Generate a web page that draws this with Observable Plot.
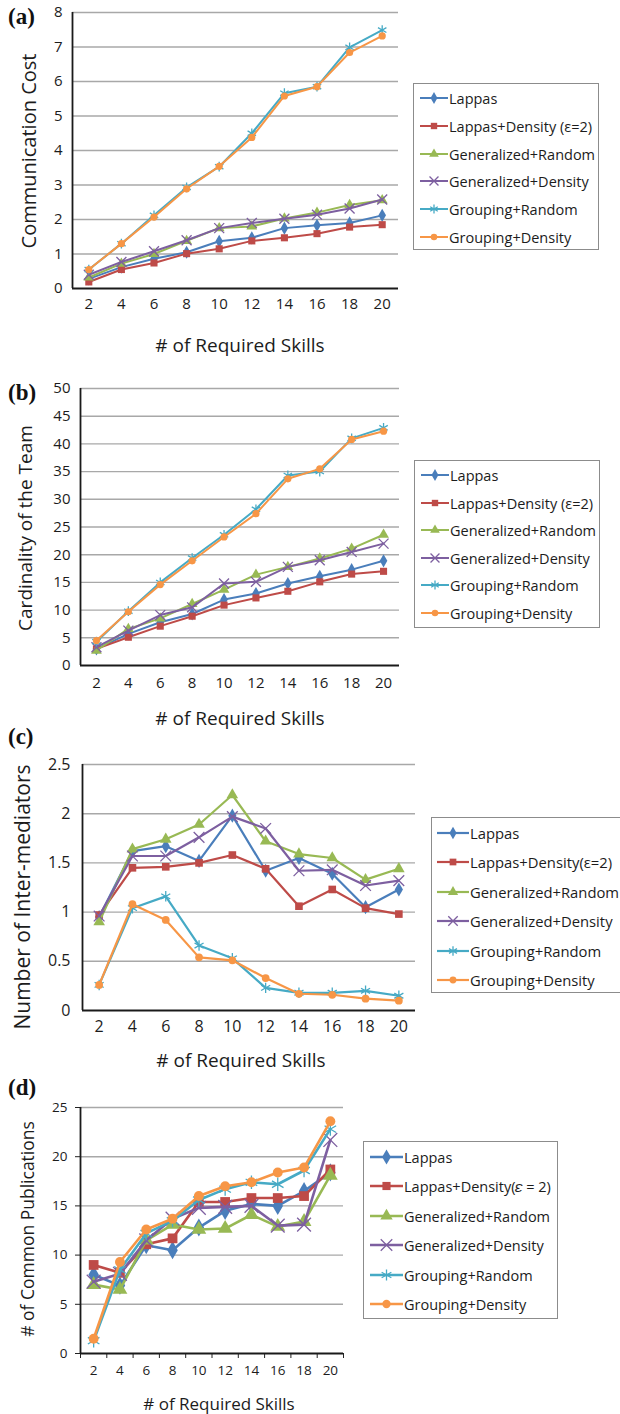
<!DOCTYPE html>
<html><head><meta charset="utf-8">
<script src="https://cdn.jsdelivr.net/npm/d3@7"></script>
<script src="https://cdn.jsdelivr.net/npm/@observablehq/plot@0.6"></script>
<style>
body{margin:0;background:#fff;}
#root{position:relative;width:620px;height:1414px;overflow:hidden;font-family:"Open Sans",Lato,sans-serif;color:#1c1c1c;}
.ttl{position:absolute;white-space:nowrap;transform:translate(-50%,-50%);color:#1c1c1c;}
.ytl{position:absolute;white-space:nowrap;transform:translate(-50%,-50%) rotate(-90deg);color:#1c1c1c;}
.plab{position:absolute;font-family:"Liberation Serif",serif;font-weight:bold;font-size:23px;color:#111;transform:translateY(-50%);}
.legend{position:absolute;border:1.5px solid #8c8c8c;background:#fff;box-sizing:border-box;}
.legend .row{position:absolute;left:0;height:20px;width:100%;}
.legend .row svg{position:absolute;top:0;}
.legend .row span{position:absolute;top:50%;transform:translateY(-50%);white-space:nowrap;color:#1c1c1c;}
.panel{position:absolute;left:0;}
</style></head><body><div id="root"></div>
<script>
// ---------- data ----------
const skills = [2, 4, 6, 8, 10, 12, 14, 16, 18, 20];
const seriesNames = ["Lappas", "Lappas+Density", "Generalized+Random", "Generalized+Density", "Grouping+Random", "Grouping+Density"];
const legendLabelsABC = ["Lappas", "Lappas+Density (ε=2)", "Generalized+Random", "Generalized+Density", "Grouping+Random", "Grouping+Density"];
const legendLabelsC = ["Lappas", "Lappas+Density(ε=2)", "Generalized+Random", "Generalized+Density", "Grouping+Random", "Grouping+Density"];
const legendLabelsD = ["Lappas", "Lappas+Density(𝜀 = 2)", "Generalized+Random", "Generalized+Density", "Grouping+Random", "Grouping+Density"];
const seriesColors = ["#4a7ebb", "#be4b48", "#98b954", "#7d5fa0", "#46aac5", "#f79646"];
const seriesSymbols = ["diamond", "square", "triangle", "times", "asterisk", "circle"];

// (a) Communication Cost
const costLappas       = [0.28, 0.62, 0.86, 1.05, 1.37, 1.47, 1.75, 1.83, 1.90, 2.12];
const costLappasDens   = [0.19, 0.55, 0.74, 1.01, 1.15, 1.38, 1.47, 1.59, 1.78, 1.85];
const costGenRandom    = [0.32, 0.72, 1.00, 1.38, 1.75, 1.80, 2.03, 2.20, 2.42, 2.56];
const costGenDensity   = [0.40, 0.77, 1.08, 1.40, 1.75, 1.90, 2.02, 2.14, 2.32, 2.58];
const costGroupRandom  = [0.55, 1.30, 2.12, 2.93, 3.53, 4.50, 5.66, 5.85, 6.99, 7.49];
const costGroupDensity = [0.55, 1.30, 2.07, 2.89, 3.54, 4.38, 5.58, 5.85, 6.84, 7.32];
const costTicks = [0, 1, 2, 3, 4, 5, 6, 7, 8];

// (b) Cardinality of the Team
const cardLappas       = [3.0, 5.7, 7.8, 9.3, 11.9, 13.0, 14.8, 16.1, 17.3, 18.9];
const cardLappasDens   = [3.0, 5.1, 7.1, 8.9, 10.9, 12.2, 13.4, 15.1, 16.5, 17.0];
const cardGenRandom    = [2.7, 6.6, 8.5, 11.1, 13.7, 16.4, 17.8, 19.3, 21.1, 23.6];
const cardGenDensity   = [3.3, 6.3, 9.1, 10.5, 14.8, 15.1, 17.8, 19.0, 20.5, 22.0];
const cardGroupRandom  = [4.3, 9.8, 15.0, 19.4, 23.6, 28.2, 34.3, 35.0, 41.0, 42.9];
const cardGroupDensity = [4.5, 9.7, 14.6, 18.9, 23.2, 27.4, 33.7, 35.5, 40.8, 42.3];
const cardTicks = [0, 5, 10, 15, 20, 25, 30, 35, 40, 45, 50];

// (c) Number of Inter-mediators
const interLappas       = [0.95, 1.62, 1.67, 1.52, 1.98, 1.42, 1.55, 1.39, 1.05, 1.23];
const interLappasDens   = [0.97, 1.45, 1.46, 1.50, 1.58, 1.44, 1.06, 1.23, 1.04, 0.98];
const interGenRandom    = [0.90, 1.64, 1.74, 1.89, 2.19, 1.72, 1.59, 1.55, 1.33, 1.44];
const interGenDensity   = [0.96, 1.57, 1.57, 1.76, 1.97, 1.85, 1.42, 1.43, 1.27, 1.32];
const interGroupRandom  = [0.26, 1.04, 1.16, 0.66, 0.53, 0.23, 0.18, 0.18, 0.20, 0.15];
const interGroupDensity = [0.26, 1.08, 0.92, 0.54, 0.51, 0.33, 0.17, 0.16, 0.12, 0.10];
const interTicks = [0, 0.5, 1, 1.5, 2, 2.5];

// (d) # of Common Publications
const pubLappas       = [8.0, 6.9, 11.0, 10.5, 12.8, 14.5, 15.2, 15.0, 16.5, 18.4];
const pubLappasDens   = [9.0, 8.2, 11.1, 11.7, 15.4, 15.4, 15.8, 15.8, 16.0, 18.7];
const pubGenRandom    = [7.0, 6.5, 11.5, 13.1, 12.6, 12.7, 14.1, 12.9, 13.4, 18.1];
const pubGenDensity   = [7.3, 8.1, 11.5, 13.7, 14.8, 14.9, 15.0, 13.0, 13.1, 21.7];
const pubGroupRandom  = [1.3, 8.5, 12.2, 13.5, 15.6, 16.7, 17.4, 17.2, 18.6, 22.8];
const pubGroupDensity = [1.5, 9.3, 12.6, 13.7, 16.0, 17.0, 17.4, 18.4, 18.9, 23.6];
const pubTicks = [0, 5, 10, 15, 20, 25];

// ---------- helpers ----------
const root = document.getElementById("root");
const FONT = "'Open Sans', Lato, sans-serif";

function rowsOf(seriesArrays) {
  const rows = [];
  seriesArrays.forEach((vals, i) => vals.forEach((v, j) => rows.push({s: seriesNames[i], i, x: skills[j], y: v})));
  return rows;
}

function panel(o) {
  const rows = rowsOf(o.series);
  const marks = [
    Plot.gridY(o.yTicks.filter(d => d !== 0), {stroke: "#a8a8a8", strokeOpacity: 1, strokeWidth: 1.4}),
    Plot.axisY(o.yTicks, {tickSize: o.ySize || 0, tickPadding: o.yPad, label: null, fontSize: o.fs, stroke: "#222", tickFormat: d => String(d)}),
    Plot.axisX(skills, {tickSize: 0, tickPadding: o.xPad, label: null, fontSize: o.fs, tickFormat: d => String(d)})
  ];
  if (o.boundaryTicks) {
    marks.push(Plot.axisX(d3.range(1, 22, 2), {tickSize: 5, tickFormat: () => "", label: null, stroke: "#222"}));
  }
  marks.push(Plot.ruleX([1], {stroke: "#1a1a1a", strokeWidth: 1.8}));
  marks.push(Plot.ruleY([0], {stroke: "#1a1a1a", strokeWidth: 1.8}));
  seriesNames.forEach((name, i) => {
    const d = rows.filter(r => r.i === i);
    marks.push(Plot.line(d, {x: "x", y: "y", stroke: seriesColors[i], strokeWidth: o.lw}));
    const sym = seriesSymbols[i];
    if (sym === "times" || sym === "asterisk") {
      marks.push(Plot.dot(d, {x: "x", y: "y", symbol: sym, stroke: seriesColors[i], fill: "none", strokeWidth: 1.3, r: o.r * 1.15}));
    } else {
      marks.push(Plot.dot(d, {x: "x", y: "y", symbol: sym, fill: seriesColors[i], stroke: "none", r: sym === "circle" ? o.r * 0.9 : o.r}));
    }
  });
  const svg = Plot.plot({
    width: o.width, height: o.height,
    marginTop: o.mt, marginBottom: o.mb, marginLeft: o.ml, marginRight: o.mr,
    style: {fontFamily: FONT, fontSize: o.fs + "px", color: "#1c1c1c", background: "transparent", overflow: "visible"},
    x: {domain: [1, 21]},
    y: {domain: [o.yTicks[0], o.yTicks[o.yTicks.length - 1]]},
    marks
  });
  svg.classList.add("panel");
  svg.style.top = o.top + "px";
  svg.style.position = "absolute";
  root.appendChild(svg);
}

function text(cls, str, x, y, fs, extra) {
  const el = document.createElement("div");
  el.className = cls;
  el.textContent = str;
  el.style.left = x + "px";
  el.style.top = y + "px";
  el.style.fontSize = fs + "px";
  if (extra) Object.assign(el.style, extra);
  root.appendChild(el);
}

const d3Symbols = {diamond: d3.symbolDiamond, square: d3.symbolSquare, triangle: d3.symbolTriangle, times: d3.symbolTimes, asterisk: d3.symbolAsterisk, circle: d3.symbolCircle};

function legend(o) {
  const box = document.createElement("div");
  box.className = "legend";
  Object.assign(box.style, {left: o.left + "px", top: o.top + "px", width: o.width + "px", height: o.height + "px"});
  o.labels.forEach((lab, i) => {
    const row = document.createElement("div");
    row.className = "row";
    row.style.top = (o.first + i * o.gap - 10) + "px";
    const w = o.x1 - o.x0;
    const sym = seriesSymbols[i];
    const rr = (sym === "times" || sym === "asterisk") ? o.r * 1.15 : (sym === "circle" ? o.r * 0.9 : o.r);
    const p = d3.symbol(d3Symbols[sym], Math.PI * rr * rr)();
    const stroked = sym === "times" || sym === "asterisk";
    row.innerHTML = `<svg width="${w}" height="20" style="left:${o.x0}px"><line x1="0" x2="${w}" y1="10" y2="10" stroke="${seriesColors[i]}" stroke-width="${o.lw}"/><path d="${p}" transform="translate(${w / 2},10)" fill="${stroked ? "none" : seriesColors[i]}" stroke="${stroked ? seriesColors[i] : "none"}" stroke-width="1.3"/></svg><span style="left:${o.tx}px;font-size:${o.fs}px">${lab}</span>`;
    box.appendChild(row);
  });
  root.appendChild(box);
}

// ---------- panel (a) ----------
panel({series: [costLappas, costLappasDens, costGenRandom, costGenDensity, costGroupRandom, costGroupDensity],
  yTicks: costTicks, top: 0, width: 400, height: 320, mt: 12, mb: 32, ml: 72, mr: 2, fs: 15, yPad: 10, xPad: 10, lw: 2, r: 4});
text("plab", "(a)", 8, 17, 23);
text("ytl", "Communication Cost", 28, 151, 20);
text("ttl", "# of Required Skills", 240, 345, 19);
legend({left: 413, top: 83, width: 186, height: 167, first: 14, gap: 27.8, x0: 6, x1: 34, tx: 35, fs: 14.5, r: 3.6, lw: 2, labels: legendLabelsABC});

// ---------- panel (b) ----------
panel({series: [cardLappas, cardLappasDens, cardGenRandom, cardGenDensity, cardGroupRandom, cardGroupDensity],
  yTicks: cardTicks, top: 375, width: 400, height: 330, mt: 13, mb: 40, ml: 80, mr: 1, fs: 15, yPad: 10, xPad: 12, lw: 2, r: 4});
text("plab", "(b)", 8, 393, 23);
text("ytl", "Cardinality of the Team", 25, 528, 19);
text("ttl", "# of Required Skills", 240, 718, 19);
legend({left: 414, top: 460, width: 186, height: 168, first: 14, gap: 27.6, x0: 6, x1: 34, tx: 35, fs: 14.5, r: 3.6, lw: 2, labels: legendLabelsABC});

// ---------- panel (c) ----------
panel({series: [interLappas, interLappasDens, interGenRandom, interGenDensity, interGroupRandom, interGroupDensity],
  yTicks: interTicks, top: 750, width: 420, height: 300, mt: 14, mb: 40, ml: 82, mr: 5, fs: 16, yPad: 12, xPad: 10, lw: 2.2, r: 4.3});
text("plab", "(c)", 8, 737, 23);
text("ytl", "Number of Inter-mediators", 22, 897, 21);
text("ttl", "# of Required Skills", 241, 1060, 19);
legend({left: 431, top: 817, width: 200, height: 176, first: 15, gap: 29.4, x0: 5, x1: 37, tx: 38, fs: 14.8, r: 3.8, lw: 2.2, labels: legendLabelsC});

// ---------- panel (d) ----------
panel({series: [pubLappas, pubLappasDens, pubGenRandom, pubGenDensity, pubGroupRandom, pubGroupDensity],
  yTicks: pubTicks, top: 1095, width: 345, height: 300, mt: 12, mb: 42, ml: 80, mr: 2, fs: 13.5, yPad: 8, ySize: 5, xPad: 12, lw: 2.6, r: 5.5, boundaryTicks: true});
text("plab", "(d)", 8, 1088, 23);
text("ytl", "# of Common Publications", 27, 1229, 17.5);
text("ttl", "# of Required Skills", 219, 1403, 17);
legend({left: 363, top: 1141, width: 195, height: 178, first: 15, gap: 29.4, x0: 6, x1: 39, tx: 40, fs: 14.5, r: 4.6, lw: 2.6, labels: legendLabelsD});
</script>
</body></html>
